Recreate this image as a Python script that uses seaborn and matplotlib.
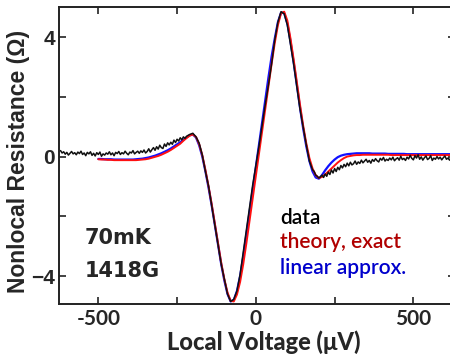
import numpy as np
import pandas as pd
import matplotlib
matplotlib.use("Agg")
import matplotlib.pyplot as plt
import seaborn as sns

# measured nonlocal signal: noisy tails every 5 uV, the big swing every 10 uV
left_v = np.arange(-620, -224, 5)
left_r = [
    0.20, 0.12, 0.16, 0.08, 0.14, 0.05, 0.11, 0.17, 0.09, 0.13,   # -620..-575
    0.06, 0.15, 0.10, 0.18, 0.07, 0.12, 0.03, 0.14, 0.09, 0.16,   # -570..-525
    0.04, 0.11, 0.02, 0.13, 0.07, 0.15, 0.01, 0.09, 0.05, 0.12,   # -520..-475
    0.08, 0.16, 0.06, 0.12, 0.03, 0.14, 0.10, 0.17, 0.07, 0.13,   # -470..-425
    0.09, 0.18, 0.11, 0.06, 0.15, 0.12, 0.20, 0.09, 0.14, 0.18,   # -420..-375
    0.11, 0.19, 0.14, 0.22, 0.12, 0.17, 0.26, 0.15, 0.23, 0.30,   # -370..-325
    0.21, 0.33, 0.25, 0.38, 0.30, 0.27, 0.42, 0.34, 0.46, 0.39,   # -320..-275
    0.48, 0.41, 0.55, 0.47, 0.58, 0.52, 0.63, 0.56, 0.66, 0.61,   # -270..-225
]
mid_v = np.arange(-220, 171, 10)
mid_r = [
    0.68, 0.74, 0.78, 0.66, 0.45, 0.05, -0.50, -1.00, -1.65, -2.30,
    -2.95, -3.60, -4.10, -4.60, -4.85, -4.78, -4.50, -3.95, -3.20, -2.45,
    -1.70, -0.95, -0.30, 0.35, 1.05, 1.75, 2.40, 3.10, 3.90, 4.50,
    4.85, 4.78, 4.40, 3.75, 3.10, 2.35, 1.60, 1.00, 0.40, -0.15,
]
right_v = np.arange(175, 621, 5)
right_r = [
    -0.30, -0.44, -0.50, -0.62, -0.66, -0.72, -0.68, -0.62, -0.70, -0.58,  # 175..220
    -0.66, -0.52, -0.60, -0.45, -0.55, -0.40, -0.50, -0.36, -0.44, -0.30,  # 225..270
    -0.38, -0.26, -0.34, -0.22, -0.31, -0.19, -0.28, -0.24, -0.15, -0.26,  # 275..320
    -0.18, -0.23, -0.12, -0.21, -0.15, -0.09, -0.19, -0.13, -0.22, -0.10,  # 325..370
    -0.16, -0.07, -0.14, -0.18, -0.06, -0.12, -0.03, -0.15, -0.09, -0.13,  # 375..420
    -0.05, -0.11, -0.02, -0.14, -0.08, -0.04, -0.12, 0.01, -0.10, -0.06,   # 425..470
    -0.13, -0.02, -0.08, 0.04, -0.06, -0.11, 0.03, -0.05, 0.06, -0.09,     # 475..520
    -0.01, -0.12, -0.04, 0.02, -0.10, -0.06, 0.03, -0.13, -0.05, -0.09,    # 525..570
    0.00, -0.08, -0.02, -0.11, -0.04, 0.02, -0.09, -0.05, -0.12, -0.03,    # 575..620
]

# theory curves, every 10 uV from -500 to 620
theory_v = np.arange(-500, 621, 10)
exact_r = [
    -0.09, -0.10, -0.10, -0.11, -0.11, -0.12, -0.12, -0.12, -0.12, -0.12,
    -0.12, -0.12, -0.12, -0.11, -0.10, -0.09, -0.07, -0.04, -0.01, 0.02,
    0.06, 0.11, 0.16, 0.22, 0.29, 0.36, 0.43, 0.53, 0.62, 0.70,
    0.74, 0.66, 0.42, 0.05, -0.45, -1.00, -1.60, -2.25, -2.90, -3.55,
    -4.10, -4.55, -4.83, -4.85, -4.62, -4.20, -3.60, -2.90, -2.15, -1.40,
    -0.65, 0.10, 0.85, 1.60, 2.35, 3.10, 3.80, 4.40, 4.80, 4.85,
    4.55, 3.95, 3.25, 2.50, 1.75, 1.05, 0.45, -0.05, -0.40, -0.62,
    -0.72, -0.68, -0.60, -0.50, -0.40, -0.30, -0.20, -0.12, -0.05, 0.00,
    0.02, 0.04, 0.05, 0.05, 0.06, 0.06, 0.06, 0.06, 0.06, 0.06,
    0.06, 0.06, 0.06, 0.05, 0.05, 0.05, 0.05, 0.05, 0.05, 0.05,
    0.05, 0.05, 0.05, 0.05, 0.05, 0.05, 0.05, 0.05, 0.05, 0.05,
    0.05, 0.05, 0.05,
]
linear_r = [
    -0.08, -0.08, -0.09, -0.09, -0.09, -0.10, -0.10, -0.10, -0.10, -0.10,
    -0.10, -0.10, -0.09, -0.08, -0.07, -0.05, -0.03, 0.00, 0.03, 0.07,
    0.11, 0.16, 0.21, 0.27, 0.34, 0.41, 0.48, 0.56, 0.64, 0.71,
    0.74, 0.64, 0.38, 0.00, -0.50, -1.05, -1.65, -2.30, -2.95, -3.60,
    -4.15, -4.60, -4.85, -4.80, -4.50, -4.00, -3.35, -2.60, -1.85, -1.10,
    -0.35, 0.40, 1.15, 1.90, 2.65, 3.35, 3.95, 4.50, 4.82, 4.80,
    4.45, 3.85, 3.15, 2.40, 1.65, 0.95, 0.35, -0.15, -0.50, -0.70,
    -0.74, -0.62, -0.46, -0.32, -0.20, -0.10, -0.02, 0.03, 0.06, 0.08,
    0.09, 0.10, 0.11, 0.11, 0.11, 0.11, 0.11, 0.10, 0.10, 0.10,
    0.10, 0.10, 0.09, 0.09, 0.09, 0.09, 0.09, 0.09, 0.08, 0.08,
    0.08, 0.08, 0.08, 0.08, 0.08, 0.08, 0.08, 0.08, 0.08, 0.08,
    0.08, 0.08, 0.08,
]

x_ticks = [-500, -250, 0, 250, 500]
x_tick_labels = ['-500', '', '0', '', '500']
y_ticks = [-4, -2, 0, 2, 4]
y_tick_labels = ['\u22124', '', '0', '', '4']

dataDF = pd.DataFrame({'V': np.concatenate([left_v, mid_v, right_v]),
                       'R': left_r + mid_r + right_r})
theoryDF = pd.DataFrame({'V': theory_v, 'exact': exact_r, 'linear': linear_r})

sns.set_theme(style="ticks")
plt.rcParams['font.family'] = ['DejaVu Sans']

fig = plt.figure(figsize=(4.5, 3.6), dpi=100)
ax = fig.add_axes([0.131, 0.156, 0.88, 0.824])

sns.lineplot(data=theoryDF, x='V', y='linear', color='#1010ff', linewidth=1.6, ax=ax)
sns.lineplot(data=theoryDF, x='V', y='exact', color='#ff1010', linewidth=1.4, ax=ax)
sns.lineplot(data=dataDF, x='V', y='R', color='#111111', linewidth=1.1, ax=ax)

ax.set_xlim(-625, 632)
ax.set_ylim(-4.93, 5.0)
ax.set_xticks(x_ticks, labels=x_tick_labels, fontfamily='Lato', fontweight='bold',
              fontsize=15)
ax.set_yticks(y_ticks, labels=y_tick_labels, fontfamily='Liberation Sans',
              fontweight='bold', fontsize=15)
ax.tick_params(direction='in', length=5, width=1.2, color='#222222',
               top=True, right=True)
ax.tick_params(axis='x', pad=4)
ax.tick_params(axis='y', pad=3)
for s in ax.spines.values():
    s.set_linewidth(1.4)
    s.set_color('#222222')

ax.set_xlabel("Local Voltage (\u03bcV)", fontsize=17, fontweight='black', family='Lato')
ax.set_ylabel("Nonlocal Resistance (\u03a9)", fontsize=16.5, fontweight='bold',
              family='Liberation Sans')
ax.xaxis.set_label_coords(0.516, -0.09)
ax.yaxis.set_label_coords(-0.072, 0.48)

ax.text(0.066, 0.202, "70mK", transform=ax.transAxes, fontsize=15, fontweight='bold')
ax.text(0.066, 0.09, "1418G", transform=ax.transAxes, fontsize=15, fontweight='bold')

ax.text(0.558, 0.27, "data", transform=ax.transAxes, fontsize=15,
        family='Lato', fontweight='semibold', color='black')
ax.text(0.558, 0.188, "theory, exact", transform=ax.transAxes, fontsize=15,
        family='Lato', fontweight='semibold', color='#b00000')
ax.text(0.558, 0.101, "linear approx.", transform=ax.transAxes, fontsize=15,
        family='Lato', fontweight='semibold', color='#0000cc')

fig.savefig('out.png', dpi=100)
